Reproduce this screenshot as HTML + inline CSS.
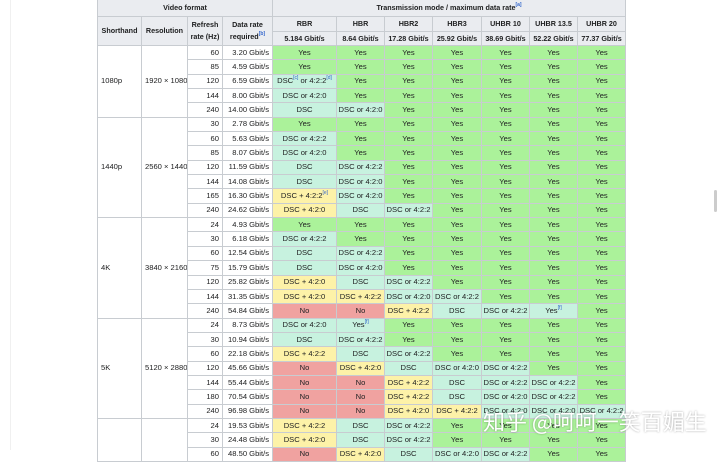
<!DOCTYPE html>
<html><head><meta charset="utf-8"><style>
body{margin:0;width:720px;height:450px;overflow:hidden;background:#fff;font-family:"Liberation Sans",sans-serif;position:relative}
table{position:absolute;left:97px;top:-2px;width:528px;border-collapse:collapse;table-layout:fixed;font-size:7.6px;color:#202122}
td,th{border:1px solid #c8ccd1;padding:0 1px;text-align:center;white-space:nowrap;overflow:hidden;height:13.35px;line-height:12px}
th{background:#eaecf0;font-weight:bold;font-size:7.2px}
.h1 th{height:17px}.h2 th{height:14px}.h3 th{height:13px}
td.r{text-align:right;background:#fff;padding-right:3px}
td.l{text-align:left;background:#fff;vertical-align:middle;padding-left:3px}
.y{background:#abf29a}.d{background:#c7f2df}.w{background:#fdf2a8}.n{background:#f0a2a0}
sup{font-size:5px;color:#36c;vertical-align:4px;line-height:0}
.wm{position:absolute;left:483px;top:405px;font-family:"Noto Sans CJK SC",sans-serif;font-size:22px;color:#fff;text-shadow:0 0 2px rgba(0,0,0,.35);letter-spacing:0}
.sb{position:absolute;left:714px;top:190px;width:3px;height:22px;background:#ccc;border-radius:2px}
.ln{position:absolute;left:10px;top:0;width:1px;height:450px;background:#f0f0f0}
</style></head><body>
<div class="ln"></div><div class="sb"></div>
<table>
<colgroup><col style="width:44px"><col style="width:46px"><col style="width:35px"><col style="width:50px"><col style="width:64px"><col style="width:48px"><col style="width:48px"><col style="width:49px"><col style="width:48px"><col style="width:48px"><col style="width:48px"></colgroup>
<tr class="h1"><th colspan="4">Video format</th><th colspan="7">Transmission mode / maximum data rate<sup>[a]</sup></th></tr>
<tr class="h2"><th rowspan="2">Shorthand</th><th rowspan="2">Resolution</th><th rowspan="2">Refresh<br>rate (Hz)</th><th rowspan="2">Data rate<br>required<sup>[b]</sup></th><th>RBR</th><th>HBR</th><th>HBR2</th><th>HBR3</th><th>UHBR 10</th><th>UHBR 13.5</th><th>UHBR 20</th></tr>
<tr class="h3"><th>5.184 Gbit/s</th><th>8.64 Gbit/s</th><th>17.28 Gbit/s</th><th>25.92 Gbit/s</th><th>38.69 Gbit/s</th><th>52.22 Gbit/s</th><th>77.37 Gbit/s</th></tr>
<tr><td class="l" rowspan="5">1080p</td><td class="l" rowspan="5">1920 × 1080</td><td class="r">60</td><td class="r">3.20 Gbit/s</td><td class="y">Yes</td><td class="y">Yes</td><td class="y">Yes</td><td class="y">Yes</td><td class="y">Yes</td><td class="y">Yes</td><td class="y">Yes</td></tr>
<tr><td class="r">85</td><td class="r">4.59 Gbit/s</td><td class="y">Yes</td><td class="y">Yes</td><td class="y">Yes</td><td class="y">Yes</td><td class="y">Yes</td><td class="y">Yes</td><td class="y">Yes</td></tr>
<tr><td class="r">120</td><td class="r">6.59 Gbit/s</td><td class="d">DSC<sup>[c]</sup> or 4:2:2<sup>[d]</sup></td><td class="y">Yes</td><td class="y">Yes</td><td class="y">Yes</td><td class="y">Yes</td><td class="y">Yes</td><td class="y">Yes</td></tr>
<tr><td class="r">144</td><td class="r">8.00 Gbit/s</td><td class="d">DSC or 4:2:0</td><td class="y">Yes</td><td class="y">Yes</td><td class="y">Yes</td><td class="y">Yes</td><td class="y">Yes</td><td class="y">Yes</td></tr>
<tr><td class="r">240</td><td class="r">14.00 Gbit/s</td><td class="d">DSC</td><td class="d">DSC or 4:2:0</td><td class="y">Yes</td><td class="y">Yes</td><td class="y">Yes</td><td class="y">Yes</td><td class="y">Yes</td></tr>
<tr><td class="l" rowspan="7">1440p</td><td class="l" rowspan="7">2560 × 1440</td><td class="r">30</td><td class="r">2.78 Gbit/s</td><td class="y">Yes</td><td class="y">Yes</td><td class="y">Yes</td><td class="y">Yes</td><td class="y">Yes</td><td class="y">Yes</td><td class="y">Yes</td></tr>
<tr><td class="r">60</td><td class="r">5.63 Gbit/s</td><td class="d">DSC or 4:2:2</td><td class="y">Yes</td><td class="y">Yes</td><td class="y">Yes</td><td class="y">Yes</td><td class="y">Yes</td><td class="y">Yes</td></tr>
<tr><td class="r">85</td><td class="r">8.07 Gbit/s</td><td class="d">DSC or 4:2:0</td><td class="y">Yes</td><td class="y">Yes</td><td class="y">Yes</td><td class="y">Yes</td><td class="y">Yes</td><td class="y">Yes</td></tr>
<tr><td class="r">120</td><td class="r">11.59 Gbit/s</td><td class="d">DSC</td><td class="d">DSC or 4:2:2</td><td class="y">Yes</td><td class="y">Yes</td><td class="y">Yes</td><td class="y">Yes</td><td class="y">Yes</td></tr>
<tr><td class="r">144</td><td class="r">14.08 Gbit/s</td><td class="d">DSC</td><td class="d">DSC or 4:2:0</td><td class="y">Yes</td><td class="y">Yes</td><td class="y">Yes</td><td class="y">Yes</td><td class="y">Yes</td></tr>
<tr><td class="r">165</td><td class="r">16.30 Gbit/s</td><td class="w">DSC + 4:2:2<sup>[e]</sup></td><td class="d">DSC or 4:2:0</td><td class="y">Yes</td><td class="y">Yes</td><td class="y">Yes</td><td class="y">Yes</td><td class="y">Yes</td></tr>
<tr><td class="r">240</td><td class="r">24.62 Gbit/s</td><td class="w">DSC + 4:2:0</td><td class="d">DSC</td><td class="d">DSC or 4:2:2</td><td class="y">Yes</td><td class="y">Yes</td><td class="y">Yes</td><td class="y">Yes</td></tr>
<tr><td class="l" rowspan="7">4K</td><td class="l" rowspan="7">3840 × 2160</td><td class="r">24</td><td class="r">4.93 Gbit/s</td><td class="y">Yes</td><td class="y">Yes</td><td class="y">Yes</td><td class="y">Yes</td><td class="y">Yes</td><td class="y">Yes</td><td class="y">Yes</td></tr>
<tr><td class="r">30</td><td class="r">6.18 Gbit/s</td><td class="d">DSC or 4:2:2</td><td class="y">Yes</td><td class="y">Yes</td><td class="y">Yes</td><td class="y">Yes</td><td class="y">Yes</td><td class="y">Yes</td></tr>
<tr><td class="r">60</td><td class="r">12.54 Gbit/s</td><td class="d">DSC</td><td class="d">DSC or 4:2:2</td><td class="y">Yes</td><td class="y">Yes</td><td class="y">Yes</td><td class="y">Yes</td><td class="y">Yes</td></tr>
<tr><td class="r">75</td><td class="r">15.79 Gbit/s</td><td class="d">DSC</td><td class="d">DSC or 4:2:0</td><td class="y">Yes</td><td class="y">Yes</td><td class="y">Yes</td><td class="y">Yes</td><td class="y">Yes</td></tr>
<tr><td class="r">120</td><td class="r">25.82 Gbit/s</td><td class="w">DSC + 4:2:0</td><td class="d">DSC</td><td class="d">DSC or 4:2:2</td><td class="y">Yes</td><td class="y">Yes</td><td class="y">Yes</td><td class="y">Yes</td></tr>
<tr><td class="r">144</td><td class="r">31.35 Gbit/s</td><td class="w">DSC + 4:2:0</td><td class="w">DSC + 4:2:2</td><td class="d">DSC or 4:2:0</td><td class="d">DSC or 4:2:2</td><td class="y">Yes</td><td class="y">Yes</td><td class="y">Yes</td></tr>
<tr><td class="r">240</td><td class="r">54.84 Gbit/s</td><td class="n">No</td><td class="n">No</td><td class="w">DSC + 4:2:2</td><td class="d">DSC</td><td class="d">DSC or 4:2:2</td><td class="d">Yes<sup>[f]</sup></td><td class="y">Yes</td></tr>
<tr><td class="l" rowspan="7">5K</td><td class="l" rowspan="7">5120 × 2880</td><td class="r">24</td><td class="r">8.73 Gbit/s</td><td class="d">DSC or 4:2:0</td><td class="d">Yes<sup>[f]</sup></td><td class="y">Yes</td><td class="y">Yes</td><td class="y">Yes</td><td class="y">Yes</td><td class="y">Yes</td></tr>
<tr><td class="r">30</td><td class="r">10.94 Gbit/s</td><td class="d">DSC</td><td class="d">DSC or 4:2:2</td><td class="y">Yes</td><td class="y">Yes</td><td class="y">Yes</td><td class="y">Yes</td><td class="y">Yes</td></tr>
<tr><td class="r">60</td><td class="r">22.18 Gbit/s</td><td class="w">DSC + 4:2:2</td><td class="d">DSC</td><td class="d">DSC or 4:2:2</td><td class="y">Yes</td><td class="y">Yes</td><td class="y">Yes</td><td class="y">Yes</td></tr>
<tr><td class="r">120</td><td class="r">45.66 Gbit/s</td><td class="n">No</td><td class="w">DSC + 4:2:0</td><td class="d">DSC</td><td class="d">DSC or 4:2:0</td><td class="d">DSC or 4:2:2</td><td class="y">Yes</td><td class="y">Yes</td></tr>
<tr><td class="r">144</td><td class="r">55.44 Gbit/s</td><td class="n">No</td><td class="n">No</td><td class="w">DSC + 4:2:2</td><td class="d">DSC</td><td class="d">DSC or 4:2:2</td><td class="d">DSC or 4:2:2</td><td class="y">Yes</td></tr>
<tr><td class="r">180</td><td class="r">70.54 Gbit/s</td><td class="n">No</td><td class="n">No</td><td class="w">DSC + 4:2:2</td><td class="d">DSC</td><td class="d">DSC or 4:2:0</td><td class="d">DSC or 4:2:2</td><td class="y">Yes</td></tr>
<tr><td class="r">240</td><td class="r">96.98 Gbit/s</td><td class="n">No</td><td class="n">No</td><td class="w">DSC + 4:2:0</td><td class="w">DSC + 4:2:2</td><td class="d">DSC or 4:2:0</td><td class="d">DSC or 4:2:0</td><td class="d">DSC or 4:2:2</td></tr>
<tr><td class="l" rowspan="3"></td><td class="l" rowspan="3"></td><td class="r">24</td><td class="r">19.53 Gbit/s</td><td class="w">DSC + 4:2:2</td><td class="d">DSC</td><td class="d">DSC or 4:2:2</td><td class="y">Yes</td><td class="y">Yes</td><td class="y">Yes</td><td class="y">Yes</td></tr>
<tr><td class="r">30</td><td class="r">24.48 Gbit/s</td><td class="w">DSC + 4:2:0</td><td class="d">DSC</td><td class="d">DSC or 4:2:2</td><td class="y">Yes</td><td class="y">Yes</td><td class="y">Yes</td><td class="y">Yes</td></tr>
<tr><td class="r">60</td><td class="r">48.50 Gbit/s</td><td class="n">No</td><td class="w">DSC + 4:2:0</td><td class="d">DSC</td><td class="d">DSC or 4:2:0</td><td class="d">DSC or 4:2:2</td><td class="y">Yes</td><td class="y">Yes</td></tr>
</table>
<div class="wm">知乎 @呵呵一笑百媚生</div>
</body></html>
